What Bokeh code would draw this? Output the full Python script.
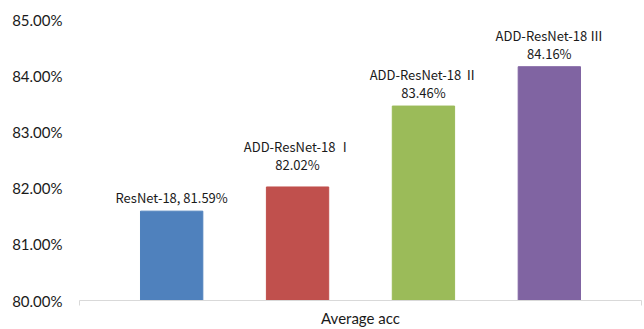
from bokeh.plotting import figure
from bokeh.models import ColumnDataSource, FixedTicker, PrintfTickFormatter, Range1d
from bokeh.embed import file_html
from bokeh.resources import INLINE
from bokeh.core.properties import value

# ---- data ----
models = ["ResNet-18", "ADD-ResNet-18 \u2160", "ADD-ResNet-18 \u2161", "ADD-ResNet-18 \u2162"]
acc = [81.59, 82.02, 83.46, 84.16]
colors = ["#4F81BD", "#C0504D", "#9BBB59", "#8064A2"]
group_label = "Average acc"
y_ticks = [80, 81, 82, 83, 84, 85]

# label text: first bar has single line "name, value"
name_lines = ["", models[1], models[2], models[3]]
value_lines = [f"{models[0]}, {acc[0]:.2f}%"] + [f"{a:.2f}%" for a in acc[1:]]
value_offsets = [14, 22, 14, 13]   # px above bar top (layout only)
line_gap = 18

xs = list(range(len(models)))
x0, x1 = -0.732, 3.732
src = ColumnDataSource(dict(
    x=xs, top=acc, color=colors, name=name_lines, val=value_lines,
    voff=[-o for o in value_offsets], noff=[-(o + line_gap) for o in value_offsets],
))

FONT = "Lato"
LFONT = "Noto Sans CJK SC"
p = figure(width=644, height=329, output_backend="svg", toolbar_location=None,
           x_range=Range1d(x0, x1), y_range=Range1d(80, 85),
           min_border_left=79, min_border_right=3, min_border_top=19, min_border_bottom=28)
p.outline_line_color = None
p.xgrid.visible = False
p.ygrid.visible = False
p.background_fill_color = "white"
p.border_fill_color = "white"

p.vbar(x="x", top="top", bottom=80, width=0.495, fill_color="color", line_color="color",
       source=src)

p.text(x="x", y="top", text="val", y_offset="voff", text_align="center",
       text_baseline="middle", text_font=value(LFONT), text_font_size="13px",
       text_color="#1a1a1a", source=src)
p.text(x="x", y="top", text="name", y_offset="noff", text_align="center",
       text_baseline="middle", text_font=value(LFONT), text_font_size="13px",
       text_color="#1a1a1a", source=src)

# y axis
ya = p.yaxis[0]
ya.ticker = FixedTicker(ticks=y_ticks)
ya.formatter = PrintfTickFormatter(format="%.2f%%")
ya.axis_line_color = None
ya.major_tick_line_color = None
ya.minor_tick_line_color = None
ya.major_label_standoff = 11
ya.major_label_text_font = FONT
ya.major_label_text_font_size = "15px"
ya.major_label_text_color = "#1a1a1a"

# x axis: category label at centre, small ticks at the two ends
xa = p.xaxis[0]
center = (xs[0] + xs[-1]) / 2
xa.ticker = FixedTicker(ticks=[center], minor_ticks=[x0, x1])
xa.major_label_overrides = {center: group_label}
xa.axis_line_color = "#D9D9D9"
xa.major_tick_out = 0
xa.major_tick_in = 0
xa.minor_tick_out = 5
xa.minor_tick_in = 0
xa.minor_tick_line_color = "#D9D9D9"
xa.major_label_standoff = 3
xa.major_label_text_font = FONT
xa.major_label_text_font_size = "15px"
xa.major_label_text_color = "#1a1a1a"

open("out.html", "w").write(file_html(p, INLINE))
